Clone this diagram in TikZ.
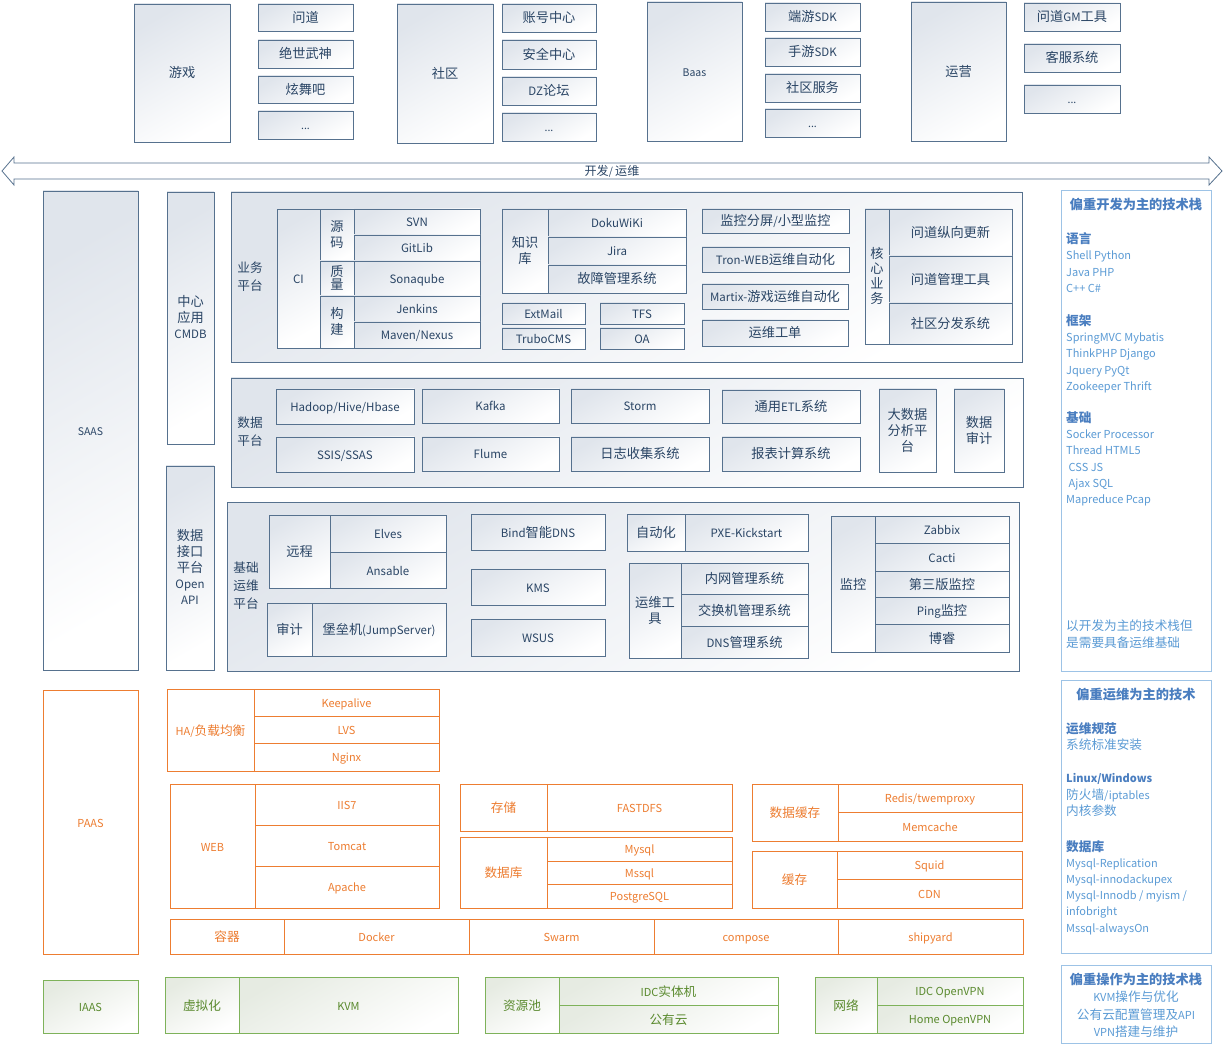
\documentclass[tikz,border=0pt]{standalone}
\usepackage{fontspec}
\setmainfont{Noto Sans CJK SC}
\newfontfamily\cjkf[Scale=1.15]{Noto Sans CJK SC}
\newfontfamily\latf{Noto Sans CJK SC}
\usepackage{xcolor}
\usepackage{tikz}
\usetikzlibrary{shapes}

% CJK runs a little larger than Latin runs
\newXeTeXintercharclass\cjkclass
\count255="3000
\loop\XeTeXcharclass\count255=\cjkclass
  \ifnum\count255<"9FFF \advance\count255 by 1 \repeat
\count255="FF00
\loop\XeTeXcharclass\count255=\cjkclass
  \ifnum\count255<"FFEF \advance\count255 by 1 \repeat
\XeTeXinterchartoks 0 \cjkclass = {\cjkf}
\XeTeXinterchartoks 4095 \cjkclass = {\cjkf}
\XeTeXinterchartoks \cjkclass 0 = {\latf}
\XeTeXinterchartoks 4095 0 = {\latf}
\XeTeXinterchartokenstate=1

\definecolor{bline}{HTML}{56718E}
\definecolor{bshade}{HTML}{E0E5EC}
\definecolor{btext}{HTML}{2A4565}
\definecolor{oline}{HTML}{ED7D31}
\definecolor{gline}{HTML}{7EB25A}
\definecolor{gshade}{HTML}{E6EBE2}
\definecolor{gtext}{HTML}{5A8A2E}
\definecolor{sline}{HTML}{9DC3E6}
\definecolor{stext}{HTML}{5B9BD5}
\definecolor{sheadc}{HTML}{4A7EC0}

% box from (x1,y1) to (x2,y2), pixel units
\newcommand{\cellbox}[6][]{%
  \node[#1, minimum width={(#4-#2)*1pt}, minimum height={(#5-#3)*1pt}]
    at ({(#2+#4)/2},{(#3+#5)/2}) {#6};}
\newcommand{\bxstrut}{\rule[-2pt]{0pt}{14pt}}

\tikzset{
  bbox/.style={draw=bline, line width=0.8pt, top color=bshade, bottom color=white,
    shading angle=30, text=btext, inner sep=0pt, align=center,
    font=\fontsize{11.5}{16}\selectfont, execute at begin node=\bxstrut, execute at end node=\bxstrut},
  sm/.style={font=\fontsize{10.5}{16}\selectfont},
  obox/.style={draw=oline, line width=0.8pt, fill=white, text=oline, inner sep=0pt,
    align=center, font=\fontsize{11}{15}\selectfont, execute at begin node=\bxstrut, execute at end node=\bxstrut},
  gbox/.style={draw=gline, line width=0.8pt, top color=gshade, bottom color=white,
    shading angle=30, text=gtext, inner sep=0pt, align=center,
    font=\fontsize{11}{15}\selectfont, execute at begin node=\bxstrut, execute at end node=\bxstrut},
  sbox/.style={draw=sline, line width=1pt, fill=white},
  stxt/.style={text=stext, align=left, inner sep=0pt, anchor=north west,
    font=\fontsize{11}{16.2}\selectfont},
  shead/.style={text=sheadc, inner sep=0pt, font=\bfseries\fontsize{11.5}{16}\selectfont},
  plat/.style={text=btext, align=center, inner sep=0pt, font=\fontsize{11}{18}\selectfont}
}

\begin{document}
\begin{tikzpicture}[x=1pt, y=-1pt]
        \useasboundingbox (0,0) rectangle (1224,1048);

        % top row
        \cellbox[bbox,name=youxi]{134}{4}{230}{142}{游戏}
        \cellbox[bbox,name=wendao]{258}{4}{353}{31}{问道}
        \cellbox[bbox,name=jueshi]{258}{40}{353}{68}{绝世武神}
        \cellbox[bbox,name=xuanwu]{258}{76}{353}{103}{炫舞吧}
        \cellbox[bbox,sm,name=gamemore]{258}{111}{353}{139}{...}
        \cellbox[bbox,name=shequ]{397}{4}{493}{143}{社区}
        \cellbox[bbox,name=zhanghao]{502}{4}{596}{32}{账号中心}
        \cellbox[bbox,name=anquan]{502}{40}{596}{69}{安全中心}
        \cellbox[bbox,name=dz]{502}{77}{596}{105}{DZ论坛}
        \cellbox[bbox,sm,name=sqmore]{502}{113}{596}{141}{...}
        \cellbox[bbox,sm,name=baas]{647}{2}{742}{141}{Baas}
        \cellbox[bbox,name=duanyou]{765}{3}{860}{31}{端游SDK}
        \cellbox[bbox,name=shouyou]{765}{38}{860}{66}{手游SDK}
        \cellbox[bbox,name=sqfw]{765}{74}{860}{102}{社区服务}
        \cellbox[bbox,sm,name=baasmore]{765}{109}{860}{137}{...}
        \cellbox[bbox,name=yunying]{911}{2}{1006}{141}{运营}
        \cellbox[bbox,name=gm]{1024}{3}{1120}{31}{问道GM工具}
        \cellbox[bbox,name=kefu]{1024}{44}{1120}{72}{客服系统}
        \cellbox[bbox,sm,name=yymore]{1024}{85}{1120}{113}{...}

        % dev / ops arrow
        \draw[bline, line width=0.8pt, fill=white] (2,171) -- (14,157) -- (14,163) -- (1209,163)
            -- (1209,157) -- (1222,171) -- (1209,185) -- (1209,179) -- (14,179) -- (14,185) -- cycle;
        \node[text=btext, font=\fontsize{10.5}{12}\selectfont] (devops) at (612,171.5) {开发/ 运维};

        % left columns
        \cellbox[bbox,sm,name=saas]{43}{191}{138}{670}{SAAS}
        \cellbox[bbox,name=cmdb]{167}{192}{214}{444}{中心\\应用\\CMDB}
        \cellbox[bbox,name=openapi]{166}{466}{214}{670}{数据\\接口\\平台\\Open\\API}

        % business platform
        \cellbox[bbox,name=yewu]{231}{192}{1022}{362}{}
        \node[plat] (yewulbl) at (250,277) {业务\\平台};
        \cellbox[bbox,name=ci]{277}{209}{320}{348}{CI}
        \cellbox[bbox,name=yuanma]{320}{209}{354}{261}{源\\码}
        \cellbox[bbox,name=zhiliang]{320}{261}{354}{296}{质\\[-3pt]量}
        \cellbox[bbox,name=goujian]{320}{296}{354}{348}{构\\建}
        \cellbox[bbox,name=svn]{354}{209}{480}{235}{SVN}
        \cellbox[bbox,name=gitlib]{354}{235}{480}{261}{GitLib}
        \cellbox[bbox,name=sonar]{354}{261}{480}{296}{Sonaqube}
        \cellbox[bbox,name=jenkins]{354}{296}{480}{322}{Jenkins}
        \cellbox[bbox,name=maven]{354}{322}{480}{348}{Maven/Nexus}
        \cellbox[bbox,name=zsk]{502}{209}{548}{293}{知识\\库}
        \cellbox[bbox,name=doku]{548}{209}{686}{237}{DokuWiKi}
        \cellbox[bbox,name=jira]{548}{237}{686}{265}{Jira}
        \cellbox[bbox,name=guzhang]{548}{265}{686}{293}{故障管理系统}
        \cellbox[bbox,name=extmail]{502}{303}{585}{324}{ExtMail}
        \cellbox[bbox,name=tfs]{600}{303}{684}{324}{TFS}
        \cellbox[bbox,name=trubo]{502}{328}{585}{349}{TruboCMS}
        \cellbox[bbox,name=oa]{600}{328}{684}{349}{OA}
        \cellbox[bbox,name=jkfp]{702}{209}{849}{233}{监控分屏/小型监控}
        \cellbox[bbox,name=tron]{702}{247}{849}{272}{Tron-WEB运维自动化}
        \cellbox[bbox,name=martix]{702}{284}{848}{309}{Martix-游戏运维自动化}
        \cellbox[bbox,name=gongdan]{702}{320}{848}{346}{运维工单}
        \cellbox[bbox,name=hexin]{865}{209}{889}{344}{核\\[-1pt]心\\[-1pt]业\\[-1pt]务}
        \cellbox[bbox,name=zongxiang]{889}{209}{1012}{256}{问道纵向更新}
        \cellbox[bbox,name=guanli]{889}{256}{1012}{303}{问道管理工具}
        \cellbox[bbox,name=fenfa]{889}{303}{1012}{344}{社区分发系统}

        % data platform
        \cellbox[bbox,name=shuju]{231}{378}{1023}{487}{}
        \node[plat] (shujulbl) at (250,432) {数据\\平台};
        \cellbox[bbox,name=hadoop]{276}{389}{414}{424}{Hadoop/Hive/Hbase}
        \cellbox[bbox,name=kafka]{422}{389}{559}{423}{Kafka}
        \cellbox[bbox,name=storm]{571}{389}{709}{423}{Storm}
        \cellbox[bbox,name=etl]{722}{390}{860}{423}{通用ETL系统}
        \cellbox[bbox,name=ssis]{276}{437}{414}{472}{SSIS/SSAS}
        \cellbox[bbox,name=flume]{422}{437}{559}{471}{Flume}
        \cellbox[bbox,name=rizhi]{571}{437}{709}{471}{日志收集系统}
        \cellbox[bbox,name=baobiao]{722}{437}{860}{471}{报表计算系统}
        \cellbox[bbox,name=bigdata]{879}{389}{936}{472}{大数据\\分析平\\台}
        \cellbox[bbox,name=shenji]{954}{389}{1004}{472}{数据\\审计}

        % base ops platform
        \cellbox[bbox,name=jichu]{227}{502}{1019}{671}{}
        \node[plat] (jichulbl) at (246,586) {基础\\运维\\平台};
        \cellbox[bbox,name=yuancheng]{269}{515}{330}{588}{远程}
        \cellbox[bbox,name=elves]{330}{515}{446}{552}{Elves}
        \cellbox[bbox,name=ansible]{330}{552}{446}{588}{Ansable}
        \cellbox[bbox,name=sj]{267}{603}{312}{656}{审计}
        \cellbox[bbox,name=jump]{312}{603}{446}{656}{堡垒机(JumpServer)}
        \cellbox[bbox,name=bind]{471}{514}{605}{550}{Bind智能DNS}
        \cellbox[bbox,name=kms]{471}{569}{605}{605}{KMS}
        \cellbox[bbox,name=wsus]{471}{619}{605}{656}{WSUS}
        \cellbox[bbox,name=zdh]{627}{514}{685}{551}{自动化}
        \cellbox[bbox,name=pxe]{685}{514}{808}{551}{PXE-Kickstart}
        \cellbox[bbox,name=ywgj]{629}{563}{681}{658}{运维工\\具}
        \cellbox[bbox,name=neiwang]{681}{563}{808}{594}{内网管理系统}
        \cellbox[bbox,name=jiaohuan]{681}{594}{808}{626}{交换机管理系统}
        \cellbox[bbox,name=dnsgl]{681}{626}{808}{658}{DNS管理系统}
        \cellbox[bbox,name=jiankong]{831}{516}{875}{652}{监控}
        \cellbox[bbox,name=zabbix]{875}{516}{1009}{543}{Zabbix}
        \cellbox[bbox,name=cacti]{875}{543}{1009}{571}{Cacti}
        \cellbox[bbox,name=disanban]{875}{571}{1009}{597}{第三版监控}
        \cellbox[bbox,name=ping]{875}{597}{1009}{624}{Ping监控}
        \cellbox[bbox,name=borui]{875}{624}{1009}{652}{博睿}

        % PAAS
        \cellbox[obox,name=paas]{43}{690}{138}{954}{PAAS}
        \cellbox[obox,name=ha]{167}{689}{254}{771}{HA/负载均衡}
        \cellbox[obox,name=keepalive]{254}{689}{439}{716}{Keepalive}
        \cellbox[obox,name=lvs]{254}{716}{439}{743}{LVS}
        \cellbox[obox,name=nginx]{254}{743}{439}{771}{Nginx}
        \cellbox[obox,name=web]{170}{784}{255}{908}{WEB}
        \cellbox[obox,name=iis]{255}{784}{439}{825}{IIS7}
        \cellbox[obox,name=tomcat]{255}{825}{439}{866}{Tomcat}
        \cellbox[obox,name=apache]{255}{866}{439}{908}{Apache}
        \cellbox[obox,name=cunchu]{460}{784}{547}{831}{存储}
        \cellbox[obox,name=fastdfs]{547}{784}{732}{831}{FASTDFS}
        \cellbox[obox,name=sjk]{460}{837}{547}{908}{数据库}
        \cellbox[obox,name=mysql]{547}{837}{732}{861}{Mysql}
        \cellbox[obox,name=mssql]{547}{861}{732}{884}{Mssql}
        \cellbox[obox,name=pgsql]{547}{884}{732}{908}{PostgreSQL}
        \cellbox[obox,name=sjhc]{752}{784}{838}{841}{数据缓存}
        \cellbox[obox,name=redis]{838}{784}{1022}{812}{Redis/twemproxy}
        \cellbox[obox,name=memcache]{838}{812}{1022}{841}{Memcache}
        \cellbox[obox,name=huancun]{752}{851}{837}{908}{缓存}
        \cellbox[obox,name=squid]{837}{851}{1022}{879}{Squid}
        \cellbox[obox,name=cdn]{837}{879}{1022}{908}{CDN}
        \cellbox[obox,name=rongqi]{170}{919}{284}{954}{容器}
        \cellbox[obox,name=docker]{284}{919}{469}{954}{Docker}
        \cellbox[obox,name=swarm]{469}{919}{654}{954}{Swarm}
        \cellbox[obox,name=compose]{654}{919}{838}{954}{compose}
        \cellbox[obox,name=shipyard]{838}{919}{1023}{954}{shipyard}

        % IAAS
        \cellbox[gbox,name=iaas]{43}{980}{138}{1033}{IAAS}
        \cellbox[gbox,name=xnh]{165}{977}{239}{1033}{虚拟化}
        \cellbox[gbox,name=kvm]{239}{977}{458}{1033}{KVM}
        \cellbox[gbox,name=zyc]{485}{977}{559}{1033}{资源池}
        \cellbox[gbox,name=idc]{559}{977}{778}{1005}{IDC实体机}
        \cellbox[gbox,name=gongyou]{559}{1005}{778}{1033}{公有云}
        \cellbox[gbox,name=wangluo]{815}{977}{877}{1033}{网络}
        \cellbox[gbox,name=idcvpn]{877}{977}{1023}{1005}{IDC OpenVPN}
        \cellbox[gbox,name=homevpn]{877}{1005}{1023}{1033}{Home OpenVPN}

        % tech stacks
        \cellbox[sbox,name=stackdev]{1061}{191}{1211}{671}{}
        \node[shead] (devtitle) at (1136,204.5) {偏重开发为主的技术栈};
        \node[stxt] (devlang) at (1066,232.5) {\textcolor{sheadc}{\textbf{语言}}\\Shell Python\\Java PHP\\C++ C\#};
        \node[stxt] (devframe) at (1066,314.5) {\textcolor{sheadc}{\textbf{框架}}\\SpringMVC Mybatis\\ThinkPHP Django\\Jquery PyQt\\Zookeeper Thrift};
        \node[stxt] (devbase) at (1066,411.5) {\textcolor{sheadc}{\textbf{基础}}\\Socker Processor\\Thread HTML5\\\ CSS JS\\\ Ajax SQL\\Mapreduce Pcap};
        \node[stxt] (devnote) at (1066,620) {以开发为主的技术栈但\\是需要具备运维基础};

        \cellbox[sbox,name=stackops]{1061}{680}{1211}{953}{}
        \node[shead] (opstitle) at (1136,694.5) {偏重运维为主的技术};
        \node[stxt] (opsnorm) at (1066,722) {\textcolor{sheadc}{\textbf{运维规范}}\\系统标准安装};
        \node[stxt] (opsos) at (1066,773.5) {\textcolor{sheadc}{\textbf{Linux/Windows}}\\防火墙/iptables\\内核参数};
        \node[stxt] (opsdb) at (1066,840) {\textcolor{sheadc}{\textbf{数据库}}\\Mysql-Replication\\Mysql-innodackupex\\Mysql-Innodb / myism /\\infobright\\Mssql-alwaysOn};

        \cellbox[sbox,name=stackop]{1061}{965}{1211}{1043}{}
        \node[shead] (optitle) at (1136,979.5) {偏重操作为主的技术栈};
        \node[stxt, anchor=north, align=center, font=\fontsize{11}{17.5}\selectfont] (oplist) at (1136,991) {KVM操作与优化\\公有云配置管理及API\\VPN搭建与维护};
\end{tikzpicture}
\end{document}
